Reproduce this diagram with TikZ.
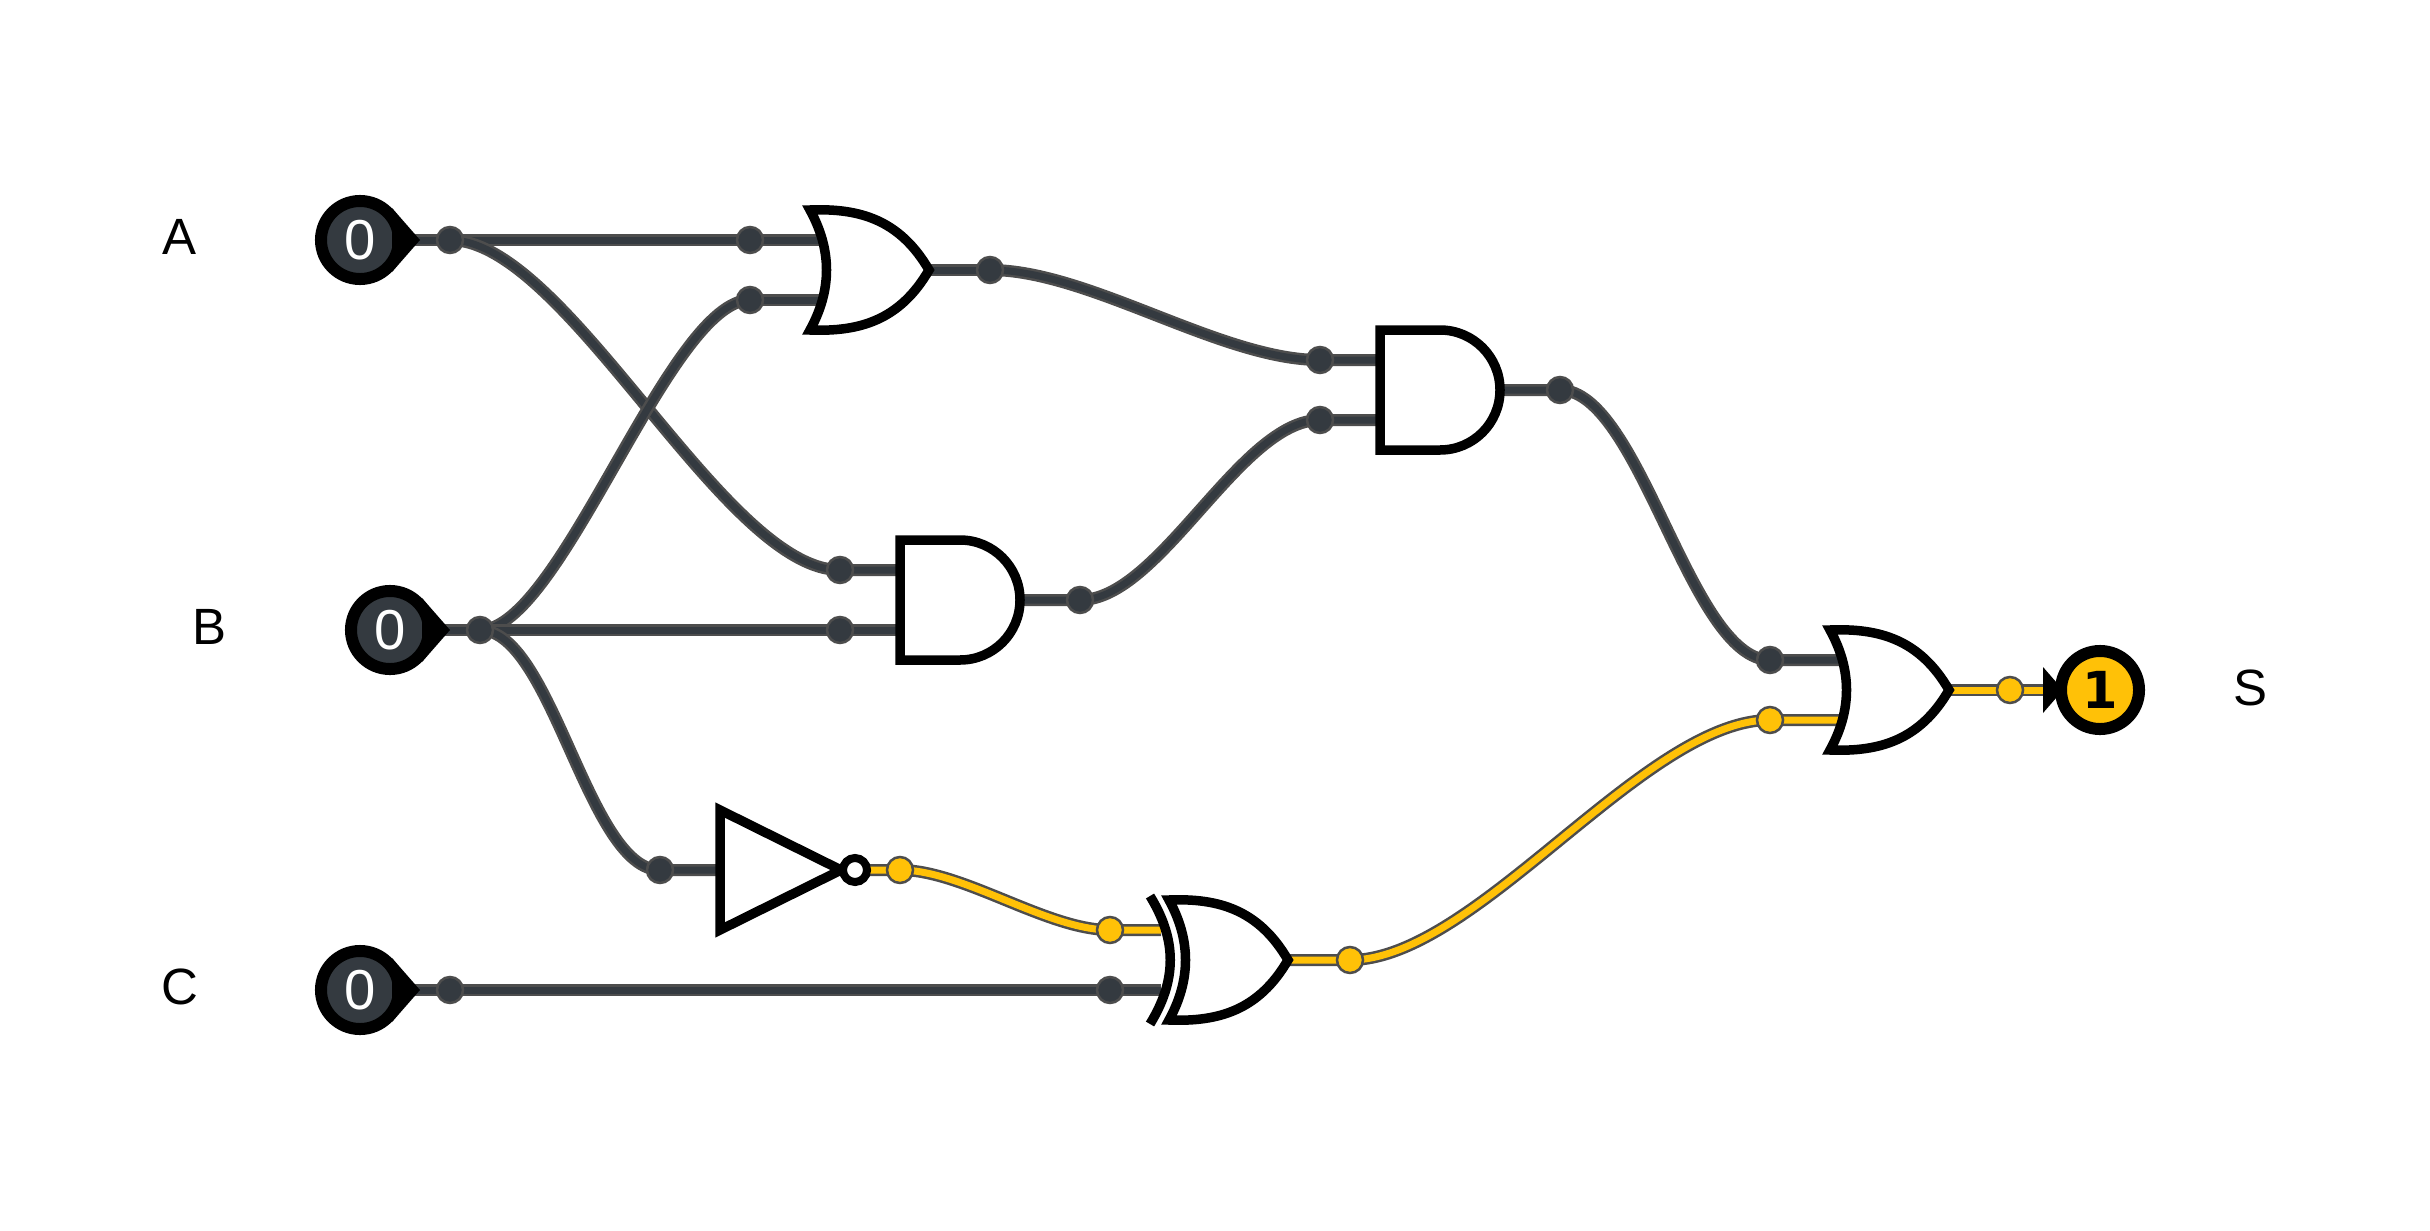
\documentclass[tikz,border=0pt]{standalone}
\usepackage{fontspec}
\setmainfont{Liberation Sans}
\newfontfamily\valfont{DejaVu Sans}
\definecolor{wirein}{HTML}{343A40}
\definecolor{wireedge}{HTML}{4D4D4D}
\definecolor{hot}{HTML}{FFC107}
\pgfdeclarelayer{wires}
\pgfsetlayers{wires,main}
\tikzset{
	txt/.style={font=\fontsize{14.5}{14.5}\selectfont},
	wire/.style={draw=wireedge, line width=.025cm, double=wirein, double distance=.07cm},
	hotwire/.style={wire, double=hot},
	dot/.style={circle, draw=wireedge, line width=.025cm, fill=wirein, minimum size=.26cm, inner sep=0pt},
	hotdot/.style={dot, fill=hot},
	pinbox/.style={circle, draw=black, line width=.12cm, minimum size=.78cm, inner sep=0pt, font=\fontsize{16}{16}\selectfont},
	gate/.style={draw=black, line width=.095cm, miter limit=20},
	orgate/.pic={
		\draw[gate] (-60,-60) .. controls (-10,-62) and (30,-50) .. (59,0)
			.. controls (30,50) and (-10,62) .. (-60,60)
			.. controls (-38,20) and (-38,-20) .. cycle;
		\coordinate (-in1) at (-51,-30);
		\coordinate (-in2) at (-51,30);
		\coordinate (-out) at (59,0);
	},
	xorgate/.pic={
		\draw[gate] (-60,-60) .. controls (-10,-62) and (30,-50) .. (59,0)
			.. controls (30,50) and (-10,62) .. (-60,60)
			.. controls (-38,20) and (-38,-20) .. cycle;
		\draw[gate] (-79,-64) .. controls (-52,-20) and (-52,20) .. (-79,64);
		\coordinate (-in1) at (-68,-30);
		\coordinate (-in2) at (-68,30);
		\coordinate (-out) at (59,0);
	},
	andgate/.pic={
		\draw[gate] (0,-60) -- (-60,-60) -- (-60,60) -- (0,60)
			arc[start angle=90, end angle=-90, radius=60] -- cycle;
		\coordinate (-in1) at (-63,-30);
		\coordinate (-in2) at (-63,30);
		\coordinate (-out) at (62,0);
	},
}
\begin{document}
\begin{tikzpicture}[x=.01cm, y=-.01cm]
	\useasboundingbox (0,0) rectangle (2430,1230);
	% input and output pins
	\foreach \n/\x/\y in {A/360/240, B/390/630, C/360/990}
	{
		\node[pinbox, fill=wirein, text=white] (in\n) at (\x,\y) {0};
		\fill ([shift={(32,-32)}]in\n.center) -- ([shift={(60,0)}]in\n.center) -- ([shift={(32,32)}]in\n.center) -- cycle;
		\node[txt] (lab\n) at (\x-180,\y-3) {\n};
	}
	\node[pinbox, fill=hot, font=\fontsize{14.5}{14.5}\selectfont\valfont\bfseries] (outS) at (2100,690) {1};
	\fill ([shift={(-57,-23)}]outS.center) -- ([shift={(-37,0)}]outS.center) -- ([shift={(-57,23)}]outS.center) -- cycle;
	\node[txt] (labS) at (2250,688) {S};

	% gates
	\pic (or1) at (870,270) {orgate};
	\pic (or2) at (1890,690) {orgate};
	\pic (xor1) at (1229,960) {xorgate};
	\pic (and1) at (960,600) {andgate};
	\pic (and2) at (1440,390) {andgate};
	\draw[gate] (720,810) -- (720,930) -- (841,870) -- cycle;
	\coordinate (notin) at (716,870);
	\node[circle, draw=black, fill=white, line width=.08cm, minimum size=.24cm, inner sep=0pt] (notout) at (855,870) {};

	% joints
	\foreach \n/\x/\y in {dA/450/240, dAor/750/240, dBor/750/300, dOr/990/270,
		dAand/840/570, dBand/840/630, dAnd/1080/600, dB/480/630,
		dOrand/1320/360, dAndand/1320/420, dTop/1560/390, dTopor/1770/660,
		dNot/660/870, dC/450/990, dCxor/1110/990}
	{
		\node[dot] (\n) at (\x,\y) {};
	}
	\foreach \n/\x/\y in {dNotout/900/870, dNotxor/1110/930, dXor/1350/960, dXoror/1770/720, dOut/2010/690}
	{
		\node[hotdot] (\n) at (\x,\y) {};
	}

	\begin{pgfonlayer}{wires}
		\draw[wire] (inA.center) -- (dA.center);
		\draw[wire] (inB.center) -- (dB.center);
		\draw[wire] (inC.center) -- (dC.center);
		\draw[wire] (dA.center) -- (dAor.center) -- (or1-in1);
		\draw[wire] (dBor.center) -- (or1-in2);
		\draw[wire] (or1-out) -- (dOr.center);
		\draw[wire] (dA.center) .. controls +(117,0) and +(-117,0) .. (dAand.center) -- (and1-in1);
		\draw[wire] (dB.center) .. controls +(81,0) and +(-81,0) .. (dBor.center);
		\draw[wire] (dB.center) -- (dBand.center) -- (and1-in2);
		\draw[wire] (dB.center) .. controls +(72,0) and +(-72,0) .. (dNot.center) -- (notin);
		\draw[wire] (dOr.center) .. controls +(99,0) and +(-99,0) .. (dOrand.center) -- (and2-in1);
		\draw[wire] (and1-out) -- (dAnd.center) .. controls +(80,0) and +(-80,0) .. (dAndand.center) -- (and2-in2);
		\draw[wire] (and2-out) -- (dTop.center) .. controls +(80,0) and +(-80,0) .. (dTopor.center) -- (or2-in1);
		\draw[wire] (dC.center) -- (dCxor.center) -- (xor1-in2);
		\draw[hotwire] (notout.center) -- (dNotout.center) .. controls +(63,0) and +(-63,0) .. (dNotxor.center) -- (xor1-in1);
		\draw[hotwire] (xor1-out) -- (dXor.center) .. controls +(126,0) and +(-126,0) .. (dXoror.center) -- (or2-in2);
		\draw[hotwire] (or2-out) -- (dOut.center) -- (outS.center);
	\end{pgfonlayer}
\end{tikzpicture}
\end{document}
